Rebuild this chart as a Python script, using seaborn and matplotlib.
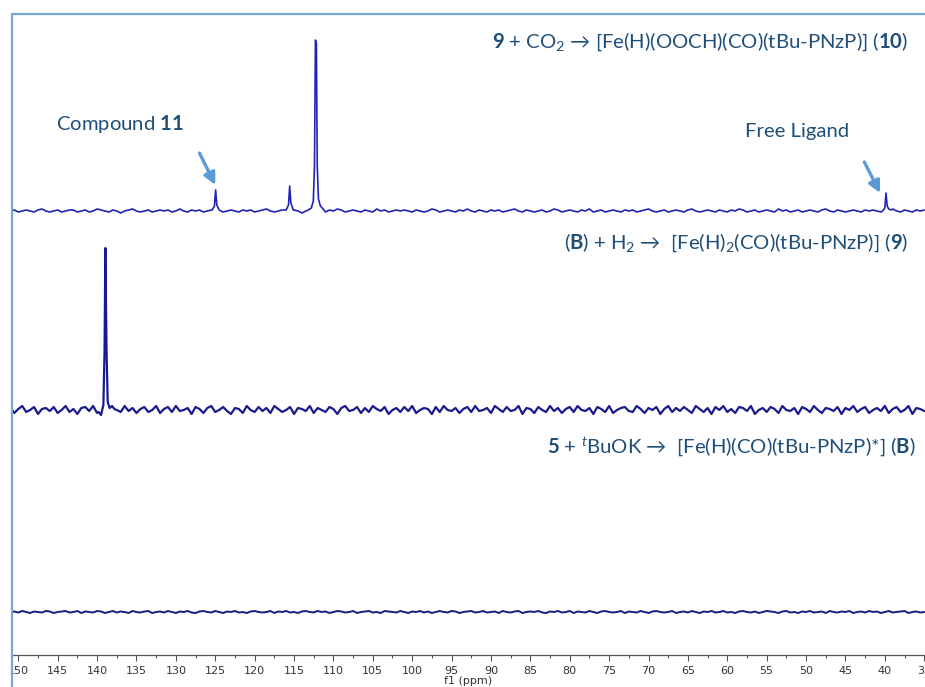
import numpy as np
import matplotlib
matplotlib.use("Agg")
import matplotlib.pyplot as plt
from matplotlib.ticker import MultipleLocator
from matplotlib.lines import Line2D
from matplotlib.patches import Rectangle
import seaborn as sns

## data (intensities in px above each baseline) ##

base_ppm = np.arange(151.0, 34.9, -0.5)

top_noise = [0, 1, -1, 0, 1, 0, -1, 1, 2, 0, -1, 0, 1, -1, 0, 1, 1, -1, 0, 1,
             -1, 0, 2, 1, 0, -1, 1, 0, -2, 0, 1, 2, 0, -1, 0, 1, -1, 0, 1, 0,
             1, -1, 0, 2, 0, -1, 1, 0, 1, -1, 0, 1, 2, 0, -1, 0, 1, 0, -1, 1,
             0, 1, -1, 0, 1, 2, 0, -1, 0, 1, -1, 0, 1, 0, -2, 0, 1, -1, 1, 0,
             -1, 1, 0, 2, 1, -1, 0, 1, 0, -1, 1, 0, -1, 2, 0, 1, -1, 0, 1, 0,
             1, 0, -1, 1, 0, -1, 0, 2, 1, -1, 0, 1, 0, -1, 1, 0, 2, 0, -1, 1,
             0, -1, 1, 0, 1, -1, 0, 1, 2, 0, -1, 1, 0, -1, 0, 1, -1, 0, 2, 1,
             -1, 0, 1, 0, -1, 1, 0, 2, -1, 0, 1, -1, 0, 1, 0, -1, 1, 0, 1, -1,
             0, 1, 2, 0, -1, 0, 1, -1, 0, 1, 0, -1, 1, 2, 0, -1, 0, 1, 0, -1,
             1, 0, -1, 1, 0, 2, 1, -1, 0, 1, -1, 0, 1, 0, -1, 2, 0, 1, -1, 0,
             1, -1, 0, 1, 0, -1, 1, 2, 0, -1, 1, 0, -1, 0, 1, 0, -1, 1, 0, 1,
             0, -1, 1, 0, 2, 0, -1, 1, 0, -1, 1, 0, 1]

mid_noise = [2, -3, 1, 4, -2, 0, 3, -4, 1, 2, -1, 3, -3, 0, 4, -2, 1, -4, 2, 3,
             -1, 4, -3, 1, 2, -4, 3, 0, -2, 4, -1, 2, -3, 1, 3, -2, 0, 4, -3, 1,
             3, -2, 4, -1, 0, 2, -4, 3, 1, -3, 2, 4, -2, 0, 3, -1, -4, 2, 1, -3,
             4, 0, -2, 3, -1, 2, -3, 4, 1, -2, 0, 3, -4, 2, 1, -1, 4, -3, 2, 0,
             -2, 3, 1, -4, 2, 4, -1, 0, 3, -3, 2, -2, 4, 1, -1, 3, -4, 0, 2, -2,
             3, -1, 4, -3, 0, 2, 1, -4, 3, -2, 4, 0, -1, 2, -3, 1, 3, -2, 4, -1,
             0, 2, -3, 4, 1, -2, 3, -1, 0, 4, -4, 2, 1, -3, 3, 0, -2, 4, -1, 2,
             -3, 1, 3, -2, 4, 0, -1, 2, -4, 3, 1, -2, 4, -3, 0, 2, 3, -1, -2, 4,
             1, -3, 2, 0, 3, -4, 1, 4, -2, 2, -1, 3, 0, -3, 4, 1, -2, 2, -4, 3,
             0, 4, -2, 1, -3, 3, 2, -1, 4, -4, 0, 2, -2, 3, 1, -3, 4, 0, -1, 2,
             -4, 3, 1, -2, 4, 0, -3, 2, 1, -1, 3, -4, 2, 0, 4, -2, 1, 3, -3, 0,
             2, -1, 4, -3, 1, 3, -2, 0, 4, -4, 2, 1, -1]

bot_noise = [0, 0.5, -0.5, 1, 0, -1, 0.5, 0, -0.5, 1, 0.5, -1, 0, 0.5, 1, -0.5, 0, 1, -1, 0.5,
             0, -0.5, 1, 0.5, -1, 0, 1, -0.5, 0.5, 0, -1, 1, 0, -0.5, 0.5, 1, -1, 0, 0.5, -0.5,
             1, 0, -1, 0.5, 0, 1, -0.5, -1, 0.5, 1, 0, -0.5, 1, 0, -1, 0.5, 0, 1, -0.5, 0,
             -1, 0.5, 1, 0, -0.5, 0, 1, -1, 0.5, 0, 1, -0.5, 0, -1, 0.5, 1, 0, -0.5, 1, 0,
             0.5, -1, 0, 1, 0.5, -0.5, 0, 1, -1, 0, 0.5, 1, -0.5, 0, -1, 1, 0.5, 0, -0.5, 1,
             0, -1, 0.5, 0, 1, -0.5, 0.5, -1, 0, 1, 0, -0.5, 1, 0.5, -1, 0, 0.5, 1, -0.5, 0,
             1, -0.5, 0, 0.5, -1, 1, 0, -0.5, 0.5, 1, -1, 0, 0.5, 0, 1, -0.5, -1, 0.5, 0, 1,
             -0.5, 0, 1, -1, 0.5, 0, -0.5, 1, 0, -1, 0.5, 1, 0, -0.5, 0, 1, -1, 0.5, 0, -0.5,
             1, 0, -1, 0.5, 1, 0, -0.5, 0, 1, -1, 0, 0.5, -0.5, 1, 0, -1, 0.5, 0, 1, -0.5,
             0, 1, -0.5, 0, -1, 0.5, 1, 0, -0.5, 0.5, -1, 0, 1, 0.5, 0, -1, 0.5, 1, -0.5, 0,
             -1, 0.5, 0, 1, -0.5, 0, 0.5, -1, 1, 0, -0.5, 0.5, 0, 1, -1, 0, 0.5, -0.5, 1, 0,
             0.5, -1, 0, 1, -0.5, 0, 0.5, 1, -1, 0, 0.5, -0.5, 0]

top_peak_ppm = [[125.4, 125.1, 124.95, 124.8, 124.5],
                [116.0, 115.7, 115.55, 115.4, 115.1],
                [113.2, 112.8, 112.55, 112.4, 112.28, 112.16, 112.05, 111.9, 111.65, 111.3],
                [40.3, 40.0, 39.85, 39.7, 39.5, 39.2]]
top_peak_int = [[1, 5, 21, 6, 1],
                [1, 6, 25, 8, 1],
                [1, 3, 10, 45, 171, 168, 45, 12, 5, 2],
                [0, 3, 18, 5, 2, 1]]

mid_peak_ppm = [[139.8, 139.5, 139.2, 139.05, 138.95, 138.8, 138.65, 138.4, 138.1, 137.8]]
mid_peak_int = [[-2, -5, 5, 60, 162, 60, 8, 2, 4, 1]]

bot_peak_ppm = []
bot_peak_int = []

baselines = [444, 245, 43]
colors = ["#2222b4", "#1a1a8e", "#1c1c7c"]
widths = [1.2, 1.6, 1.4]


def build(noise, peak_ppm, peak_int):
    x = np.asarray(base_ppm)
    y = np.asarray(noise[:len(x)], dtype=float)
    keep = np.ones(len(x), dtype=bool)
    for pp in peak_ppm:
        keep &= ~((x <= max(pp)) & (x >= min(pp)))
    xs = list(x[keep])
    ys = list(y[keep])
    for pp, pi in zip(peak_ppm, peak_int):
        xs += pp
        ys += pi
    order = np.argsort(xs)
    return np.array(xs)[order], np.array(ys)[order]


sns.set_style("white")
plt.rcParams["font.family"] = ["DejaVu Sans"]
plt.rcParams["mathtext.fontset"] = "custom"
plt.rcParams["mathtext.rm"] = "Lato"
plt.rcParams["mathtext.bf"] = "Lato:bold"
plt.rcParams["mathtext.it"] = "Lato:italic"
plt.rcParams["mathtext.fallback"] = "stixsans"

W, H = 925, 687
fig = plt.figure(figsize=(W / 100, H / 100), dpi=100)
ax = fig.add_axes([12 / W, 32 / H, 913 / W, 641 / H])

traces = [(top_noise, top_peak_ppm, top_peak_int),
          (mid_noise, mid_peak_ppm, mid_peak_int),
          (bot_noise, bot_peak_ppm, bot_peak_int)]
for (noise, pp, pi), b, c, lw in zip(traces, baselines, colors, widths):
    x, y = build(noise, pp, pi)
    sns.lineplot(x=x, y=y + b, ax=ax, color=c, linewidth=lw)

ax.set_xlim(150.8, 34.9)
ax.set_ylim(0, 641)
ax.set_yticks([])
ax.set_ylabel("")
ax.xaxis.set_major_locator(MultipleLocator(5))
ax.xaxis.set_minor_locator(MultipleLocator(2.5))
ax.tick_params(axis="x", which="major", direction="out", length=4, width=0.8,
               color="#555555", labelsize=8, labelcolor="#333333", pad=4, bottom=True)
ax.tick_params(axis="x", which="minor", direction="out", length=2.5, width=0.8,
               color="#555555", bottom=True)
ax.set_xlabel("f1 (ppm)", fontsize=8, color="#333333", labelpad=0)
for s in ["left", "right", "top"]:
    ax.spines[s].set_visible(False)
ax.spines["bottom"].set_color("#555555")
ax.spines["bottom"].set_linewidth(0.9)

# annotations
tc = "#1f4e79"
fs = 14.6
fig.text(908 / W, 1 - 42 / H,
         r"$\mathbf{9}$ + CO$_2$ → [Fe(H)(OOCH)(CO)(tBu-PNzP)] ($\mathbf{10}$)",
         ha="right", va="center", fontsize=fs, color=tc, family="Lato")
fig.text(908 / W, 1 - 243 / H,
         r"($\mathbf{B}$) + H$_2$ →  [Fe(H)$_2$(CO)(tBu-PNzP)] ($\mathbf{9}$)",
         ha="right", va="center", fontsize=fs, color=tc, family="Lato")
fig.text(916 / W, 1 - 447 / H,
         r"$\mathbf{5}$ + $^{\mathit{t}}$BuOK →  [Fe(H)(CO)(tBu-PNzP)*] ($\mathbf{B}$)",
         ha="right", va="center", fontsize=fs, color=tc, family="Lato")
fig.text(56 / W, 1 - 124 / H, r"Compound $\mathbf{11}$",
         ha="left", va="center", fontsize=fs, color=tc, family="Lato")
fig.text(745 / W, 1 - 132 / H, "Free Ligand",
         ha="left", va="center", fontsize=fs, color=tc, family="Lato")

arrow_kw = dict(arrowstyle="-|>,head_length=0.7,head_width=0.35", color="#5b9bd5",
                lw=2.4, shrinkA=0, shrinkB=0)
ax.annotate("", xy=(125.0, 470), xytext=(127.0, 502), arrowprops=arrow_kw)
ax.annotate("", xy=(40.6, 462), xytext=(42.6, 493), arrowprops=arrow_kw)

# frame
fig.add_artist(Rectangle((0, 0), 11 / W, 1, transform=fig.transFigure,
                         facecolor="white", edgecolor="none", zorder=5))
fc = "#7aa6d8"
fig.add_artist(Line2D([12 / W, 12 / W], [0, 1 - 14 / H], transform=fig.transFigure,
                      color=fc, linewidth=1.6, zorder=6))
fig.add_artist(Line2D([12 / W, 1], [1 - 14 / H, 1 - 14 / H], transform=fig.transFigure,
                      color=fc, linewidth=1.6, zorder=6))

fig.savefig("out.png", dpi=100)
